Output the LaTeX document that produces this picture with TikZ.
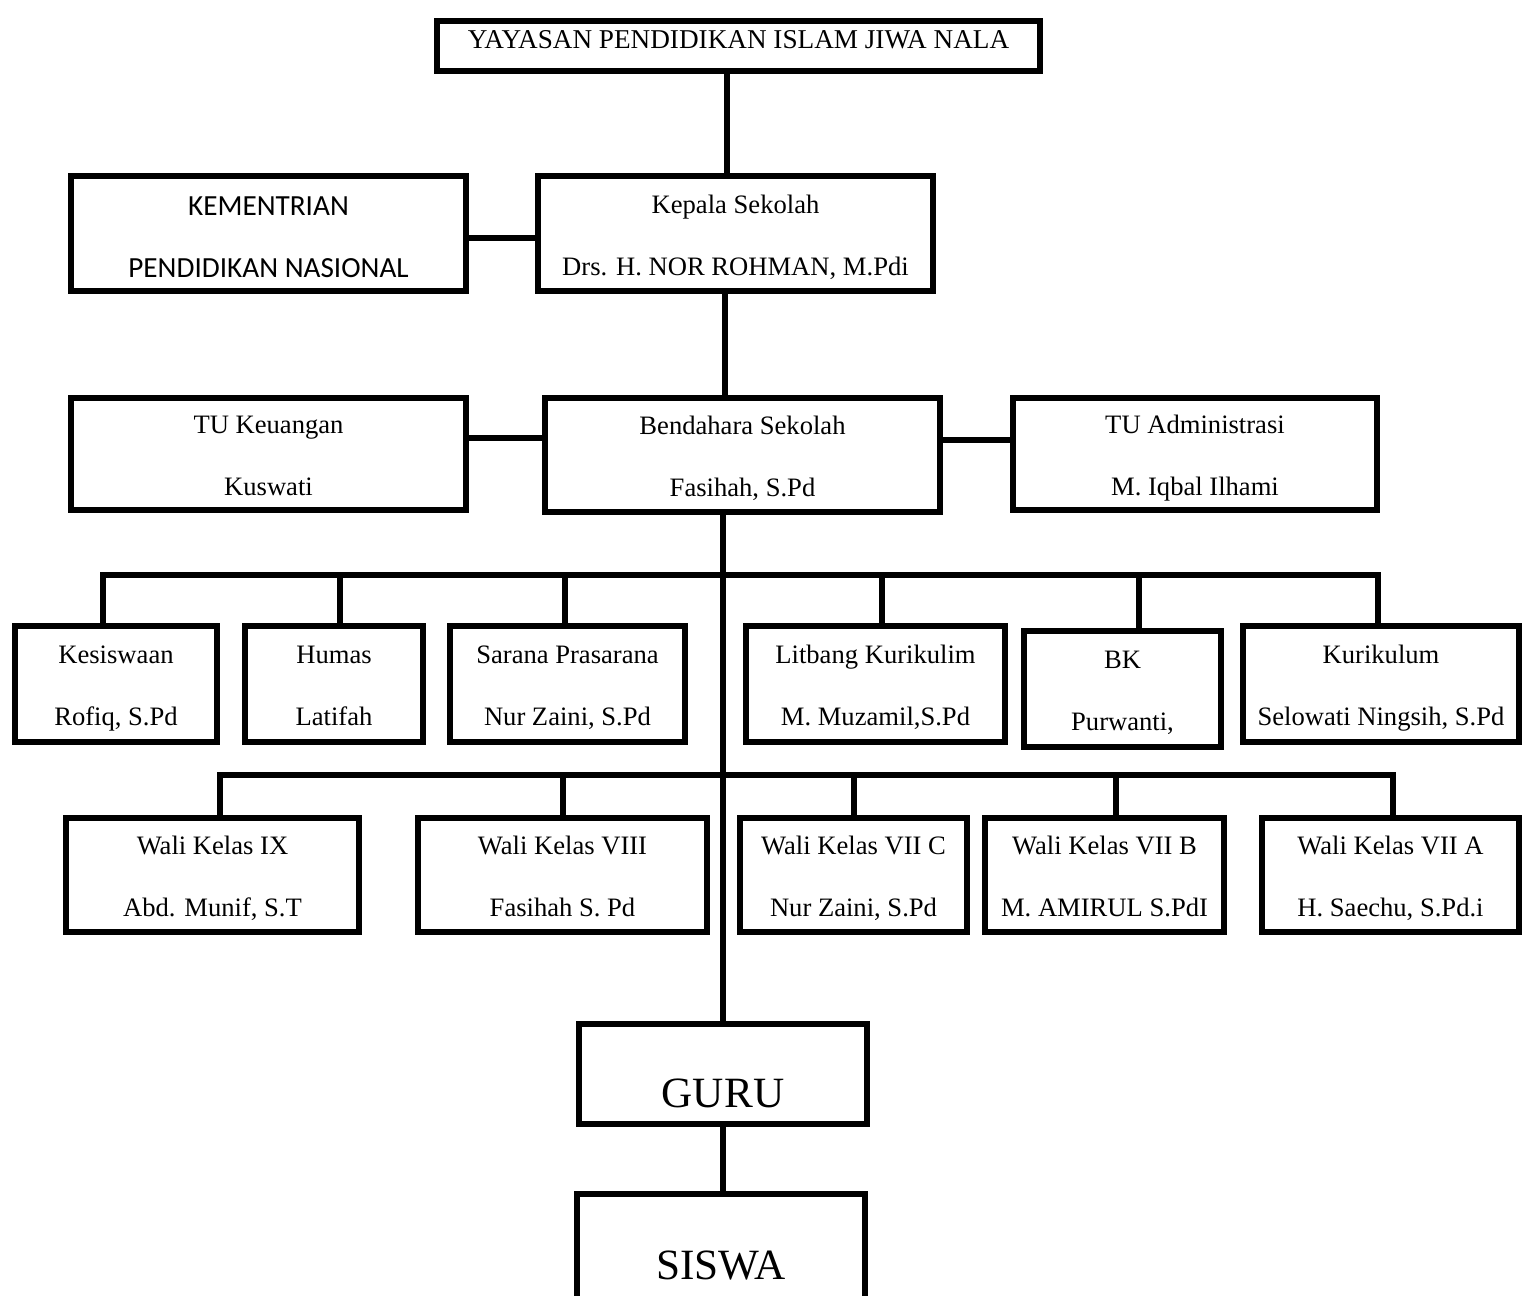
\documentclass[tikz,border=0pt]{standalone}
\usepackage{fontspec}
\setmainfont{Liberation Serif}
\newfontfamily\calibri{Carlito}
\usetikzlibrary{calc}
\tikzset{
  orgbox/.style={draw, line width=3pt, inner sep=0, align=center,
    font=\fontsize{13.3}{31}\selectfont, text height=44.5pt, text depth=3.5pt},
  bigbox/.style={draw, line width=3pt, inner sep=0, align=center,
    font=\fontsize{21.6}{26}\selectfont},
  link/.style={line width=3pt, line cap=rect}
}

\begin{document}
\begin{tikzpicture}[x=0.5pt, y=-0.5pt]
  \useasboundingbox (0,0) rectangle (1524,1295);

  % top of the chart
  \node [draw, line width=3pt, inner sep=0, font=\fontsize{13.6}{16}\selectfont,
    minimum width=301.5pt, minimum height=25pt] (yayasan) at (738.5,46)
    {\raisebox{7pt}{YAYASAN PENDIDIKAN ISLAM JIWA NALA}};
  \node [orgbox, minimum width=197.5pt, minimum height=57.5pt, text height=47.5pt,
    font=\calibri\fontsize{14.6}{31}\selectfont] (kementrian) at (268.5,233.5)
    {KEMENTRIAN\\PENDIDIKAN NASIONAL};
  \node [orgbox, minimum width=197.5pt, minimum height=57.5pt, text height=45.5pt]
    (kepala) at (735.5,233.5) {Kepala Sekolah\\Drs. H. NOR ROHMAN, M.Pdi};

  \node [orgbox, minimum width=197.5pt, minimum height=56pt] (tukeu) at (268.5,454)
    {TU Keuangan\\Kuswati};
  \node [orgbox, minimum width=197.5pt, minimum height=57pt] (bendahara) at (742.5,455)
    {Bendahara Sekolah\\Fasihah, S.Pd};
  \node [orgbox, minimum width=182pt, minimum height=56pt] (tuadm) at (1195,454)
    {TU Administrasi\\M. Iqbal Ilhami};

  % first row
  \node [orgbox, minimum width=101pt, minimum height=58pt] (kesiswaan) at (116,684)
    {Kesiswaan\\Rofiq, S.Pd};
  \node [orgbox, minimum width=89pt, minimum height=58pt] (humas) at (334,684)
    {Humas\\Latifah};
  \node [orgbox, minimum width=117.5pt, minimum height=58pt] (sarana) at (567.5,684)
    {Sarana Prasarana\\Nur Zaini, S.Pd};
  \node [orgbox, minimum width=129.5pt, minimum height=58pt] (litbang) at (875.5,684)
    {Litbang Kurikulim\\M. Muzamil,S.Pd};
  \node [orgbox, minimum width=98.5pt, minimum height=58pt] (bk) at (1122.5,689)
    {BK\\Purwanti,};
  \node [orgbox, minimum width=138pt, minimum height=58pt] (kurikulum) at (1381,684)
    {Kurikulum\\Selowati Ningsih, S.Pd};

  % wali kelas
  \node [orgbox, minimum width=146.5pt, minimum height=57pt] (walix) at (212.5,875)
    {Wali Kelas IX\\Abd. Munif, S.T};
  \node [orgbox, minimum width=144.5pt, minimum height=57pt] (waliviii) at (562.5,875)
    {Wali Kelas VIII\\Fasihah S. Pd};
  \node [orgbox, minimum width=113.5pt, minimum height=57pt] (walic) at (853.5,875)
    {Wali Kelas VII C\\Nur Zaini, S.Pd};
  \node [orgbox, minimum width=119.5pt, minimum height=57pt] (walib) at (1104.5,875)
    {Wali Kelas VII B\\M. AMIRUL S.PdI};
  \node [orgbox, minimum width=128.5pt, minimum height=57pt] (walia) at (1390.5,875)
    {Wali Kelas VII A\\H. Saechu, S.Pd.i};

  \node [bigbox, minimum width=144pt, minimum height=50pt,
    text height=33pt, text depth=0pt] (guru) at (723,1074) {GURU};
  \node [bigbox, minimum width=144pt, minimum height=72pt] (siswa) at (721,1266) {SISWA};

  % lines
  \draw [link] (yayasan.south -| 727,0) -- (kepala.north -| 727,0);
  \draw [link] (kementrian.east |- 0,238) -- (kepala.west |- 0,238);
  \draw [link] (kepala.south -| 725,0) -- (bendahara.north -| 725,0);
  \draw [link] (tukeu.east |- 0,438) -- (bendahara.west |- 0,438);
  \draw [link] (bendahara.east |- 0,440) -- (tuadm.west |- 0,440);
  \draw [link] (bendahara.south -| guru.north) -- (guru.north);
  \draw [link] (guru.south) -- (guru.south |- siswa.north);

  \coordinate (busa) at (723,575);
  \coordinate (busb) at (723,775);
  \draw [link] (busa -| 103,0) -- (busa -| 1378,0);
  \draw [link] (busb -| 220,0) -- (busb -| 1393,0);
  \foreach \n/\x in {kesiswaan/103, humas/340, sarana/565, litbang/882, bk/1139, kurikulum/1378}
    \draw [link] (busa -| \x,0) -- (\n.north -| \x,0);
  \foreach \n/\x in {walix/220, waliviii/563, walic/854, walib/1116, walia/1393}
    \draw [link] (busb -| \x,0) -- (\n.north -| \x,0);
\end{tikzpicture}
\end{document}
